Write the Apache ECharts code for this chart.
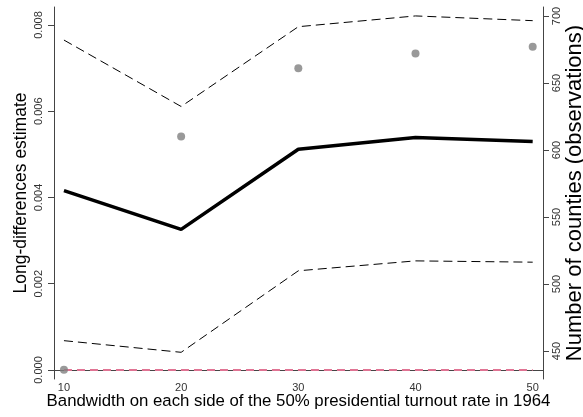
<!DOCTYPE html>
<html>
<head>
<meta charset="utf-8">
<script src="https://cdn.jsdelivr.net/npm/echarts@6/dist/echarts.min.js"></script>
<style>
  html, body { margin: 0; padding: 0; background: #fff; }
  #main { width: 583px; height: 417px; }
</style>
</head>
<body>
<div id="main"></div>
<script>
// bandwidth categories (x)
const bandwidth = [10, 20, 30, 40, 50];
// long-differences estimate and 95% band (left axis)
const estimate = [0.00416, 0.00326, 0.00512, 0.00539, 0.0053];
const upperCI = [0.00765, 0.00611, 0.00796, 0.00821, 0.0081];
const lowerCI = [0.00068, 0.00041, 0.0023, 0.00253, 0.0025];
const zeroLine = [0, 0, 0, 0, 0];
// number of counties (right axis)
const counties = [436, 610, 661, 672, 677];

const leftTicks = [0, 0.002, 0.004, 0.006, 0.008];
const rightTicks = [450, 500, 550, 600, 650, 700];

const pairs = (ys) => bandwidth.map((x, i) => [x, ys[i]]);

const myChart = echarts.init(document.getElementById("main"));

const axisLine = { show: true, lineStyle: { color: "#444", width: 1 } };
const labelFont = { fontFamily: "Liberation Sans", fontSize: 11, color: "#333" };
const nameFont = { fontFamily: "Liberation Sans", color: "#000" };

const option = {
  animation: false,
  grid: {
    left: 54,
    right: 40,
    top: 7,
    bottom: 38,
    containLabel: false,
    outerBoundsMode: "none",
  },
  xAxis: {
    type: "value",
    min: 9.15,
    max: 50.88,
    name: "Bandwidth on each side of the 50% presidential turnout rate in 1964",
    nameLocation: "middle",
    nameGap: 14,
    nameMoveOverlap: false,
    nameTextStyle: { ...nameFont, fontSize: 16.8, verticalAlign: "top" },
    axisLine: axisLine,
    axisTick: { show: false },
    splitLine: { show: false },
    axisLabel: { ...labelFont, margin: 3, customValues: bandwidth },
  },
  yAxis: [
    {
      type: "value",
      position: "left",
      min: -0.000209,
      max: 0.008417,
      name: "Long-differences estimate",
      nameLocation: "middle",
      nameRotate: 90,
      nameGap: 24,
      nameMoveOverlap: false,
      nameTextStyle: { ...nameFont, fontSize: 17.5 },
      axisLine: axisLine,
      axisTick: { show: true, length: 6, customValues: leftTicks, lineStyle: { color: "#444" } },
      splitLine: { show: false },
      axisLabel: {
        ...labelFont,
        rotate: 90,
        margin: 10,
        customValues: leftTicks,
        formatter: (v) => v.toFixed(3),
      },
    },
    {
      type: "value",
      position: "right",
      min: 429.1,
      max: 706.7,
      name: "Number of counties (observations)",
      nameLocation: "middle",
      nameRotate: 90,
      nameGap: 21,
      nameMoveOverlap: false,
      nameTextStyle: { ...nameFont, fontSize: 22 },
      axisLine: axisLine,
      axisTick: { show: true, length: 6, customValues: rightTicks, lineStyle: { color: "#444" } },
      splitLine: { show: false },
      axisLabel: { ...labelFont, rotate: 90, margin: 8, customValues: rightTicks },
    },
  ],
  series: [
    {
      name: "zero",
      type: "line",
      data: pairs(zeroLine),
      symbol: "none",
      lineStyle: { color: "#e07393", width: 2, type: [8, 5] },
      z: 1,
    },
    {
      name: "upper",
      type: "line",
      data: pairs(upperCI),
      symbol: "none",
      lineStyle: { color: "#000", width: 1, type: [9, 5] },
    },
    {
      name: "lower",
      type: "line",
      data: pairs(lowerCI),
      symbol: "none",
      lineStyle: { color: "#000", width: 1, type: [9, 5] },
    },
    {
      name: "estimate",
      type: "line",
      data: pairs(estimate),
      symbol: "none",
      lineStyle: { color: "#000", width: 3.5 },
    },
    {
      name: "counties",
      type: "scatter",
      yAxisIndex: 1,
      data: pairs(counties),
      symbol: "circle",
      symbolSize: 8,
      itemStyle: { color: "#808080" },
      z: 5,
    },
  ],
};

myChart.setOption(option);
</script>
</body>
</html>
